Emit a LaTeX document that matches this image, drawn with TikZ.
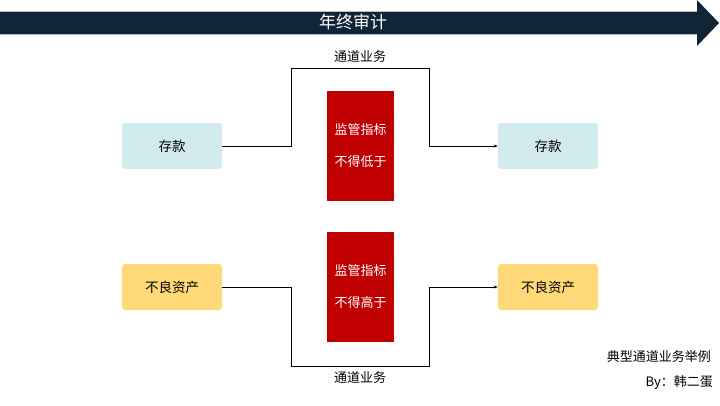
\documentclass[tikz,border=0pt]{standalone}
\usepackage{fontspec}
\setmainfont{Noto Sans CJK SC}
\usetikzlibrary{arrows.meta}
\definecolor{navy}{HTML}{0F2437}
\definecolor{cyanbox}{HTML}{D2EBEE}
\definecolor{goldbox}{HTML}{FFD977}
\definecolor{redbox}{HTML}{C00000}
\tikzset{
  srcbox/.style={rounded corners=3pt, minimum width=100pt, minimum height=46pt, inner sep=0pt, font=\fontsize{13.5}{16}\selectfont},
  redpanel/.style={fill=redbox, minimum width=67pt, minimum height=110pt, inner sep=0pt, text=white, align=center, font=\fontsize{13}{32}\selectfont},
  flow/.style={draw=black, line width=0.8pt},
  lbl/.style={font=\fontsize{13}{15}\selectfont, inner sep=0pt},
}
\begin{document}
\begin{tikzpicture}[x=1pt,y=-1pt]
\useasboundingbox (0,0) rectangle (720,405);
% timeline arrow
\fill[navy] (0,11) -- (697,11) -- (697,0) -- (719,23) -- (697,46) -- (697,34) -- (0,34) -- cycle;
\draw[white!70!navy, line width=0.6pt] (0,11) -- (697,11) (0,34) -- (697,34);
\node[text=white, font=\fontsize{17}{20}\selectfont, inner sep=0pt] (title) at (353,22) {年终审计};
% boxes
\node[srcbox, fill=cyanbox] (dl) at (172,146) {存款};
\node[srcbox, fill=cyanbox] (dr) at (548,146) {存款};
\node[srcbox, fill=goldbox] (nl) at (172,287) {不良资产};
\node[srcbox, fill=goldbox] (nr) at (548,287) {不良资产};
\node[redpanel] (r1) at (360.5,146) {监管指标\\不得低于};
\node[redpanel] (r2) at (360.5,287) {监管指标\\不得高于};
% connectors
\coordinate (t1) at (291,68);
\coordinate (t2) at (429,68);
\coordinate (b1) at (291,366);
\coordinate (b2) at (429,366);
\draw[flow, -{Stealth[length=4pt,width=3pt]}] (dl.east) -| (t1) -- (t2) |- (dr.west);
\draw[flow, -{Stealth[length=4pt,width=3pt]}] (nl.east) -| (b1) -- (b2) |- (nr.west);
\node[lbl] (l1) at (360,57) {通道业务};
\node[lbl] (l2) at (360,378) {通道业务};
\node[lbl, anchor=east] (n1) at (711,357) {典型通道业务举例};
\node[lbl, anchor=east] (n2) at (713,383) {By：韩二蛋};
\end{tikzpicture}
\end{document}
